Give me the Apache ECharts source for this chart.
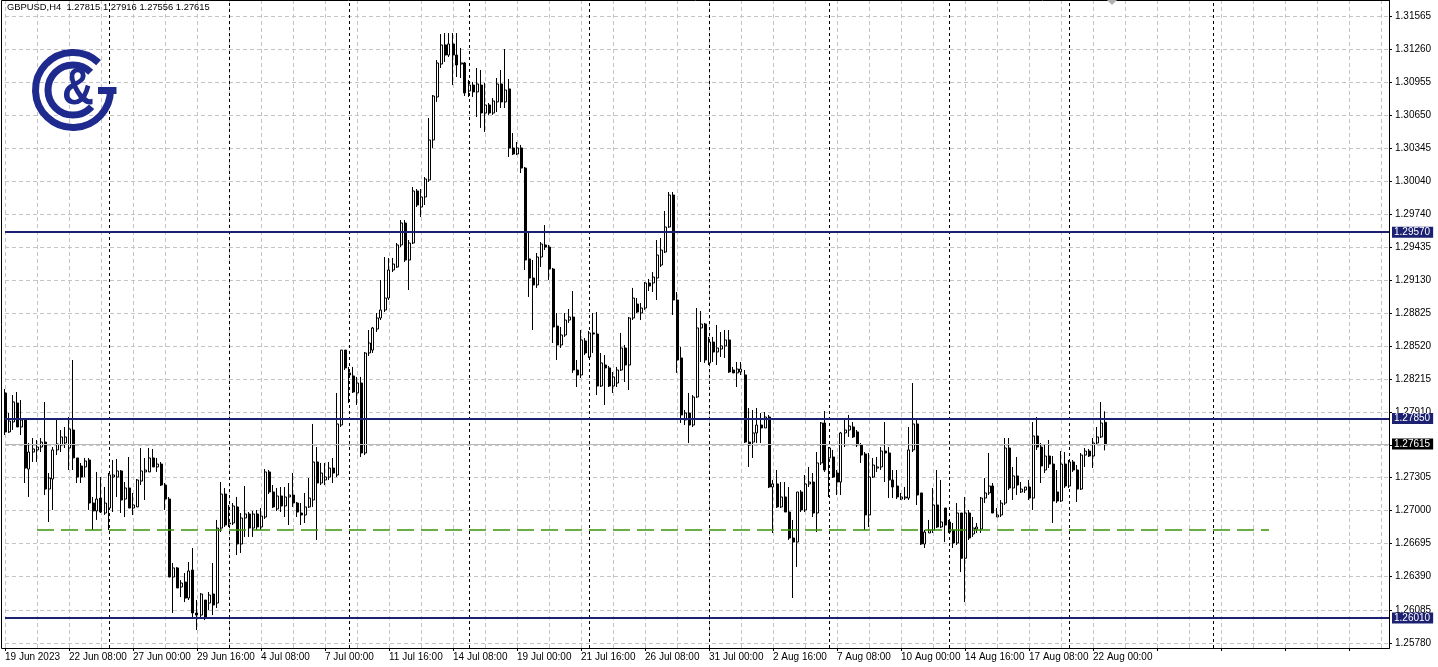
<!DOCTYPE html>
<html><head><meta charset="utf-8">
<script src="https://cdn.jsdelivr.net/npm/echarts@6/dist/echarts.min.js"></script>
<style>html,body{margin:0;padding:0;background:#fff;}#c{width:1438px;height:667px;}</style>
</head><body><div id="c"></div>
<script>
const symbol = 'GBPUSD';
const timeframe = 'H4';

const opens = [1.28086,1.27726,1.27818,1.27993,1.27772,1.27837,1.27384,1.27541,1.27560,1.27587,
1.27633,1.27199,1.27292,1.27560,1.27606,1.27624,1.27578,1.27744,1.27486,1.27412,
1.27403,1.27467,1.27070,1.26997,1.27116,1.26978,1.27024,1.27310,1.27310,1.27366,
1.27107,1.27209,1.27024,1.27034,1.27273,1.27357,1.27357,1.27486,1.27403,1.27430,
1.27236,1.27107,1.26387,1.26471,1.26295,1.26341,1.26193,1.26452,1.26055,1.26036,
1.26175,1.26147,1.26230,1.26147,1.26839,1.27153,1.26877,1.26886,1.27034,1.26692,
1.26932,1.26969,1.26839,1.26969,1.26849,1.26941,1.27357,1.27172,1.27015,1.27135,
1.27043,1.27126,1.27144,1.27070,1.26978,1.26960,1.27034,1.27098,1.27449,1.27255,
1.27283,1.27310,1.27393,1.27329,1.27790,1.28482,1.28271,1.28243,1.28086,1.28178,
1.27532,1.28455,1.28482,1.28676,1.28778,1.28852,1.28962,1.29221,1.29249,1.29452,
1.29655,1.29313,1.29470,1.29950,1.29802,1.29895,1.30052,1.30421,1.30818,1.31122,
1.31298,1.31205,1.31307,1.31205,1.31122,1.31132,1.30873,1.30928,1.30864,1.30928,
1.30670,1.30744,1.30670,1.30772,1.30938,1.30772,1.30892,1.30347,1.30292,1.30347,
1.30162,1.29323,1.29147,1.29083,1.29341,1.29452,1.29433,1.29230,1.28704,1.28529,
1.28621,1.28759,1.28787,1.28298,1.28252,1.28566,1.28418,1.28640,1.28630,1.28150,
1.28344,1.28317,1.28150,1.28178,1.28298,1.28501,1.28344,1.28778,1.28907,1.28824,
1.28870,1.29101,1.29101,1.29147,1.29267,1.29387,1.29618,1.29913,1.28944,1.28409,
1.27837,1.27901,1.27790,1.28049,1.28686,1.28722,1.28363,1.28556,1.28464,1.28492,
1.28520,1.28575,1.28298,1.28271,1.28280,1.28252,1.27633,1.27633,1.27717,1.27790,
1.27763,1.27864,1.27218,1.27246,1.27034,1.27126,1.26987,1.26747,1.26710,1.27172,
1.27006,1.27246,1.27264,1.26978,1.27440,1.27809,1.27486,1.27495,1.27347,1.27264,
1.27717,1.27744,1.27772,1.27726,1.27606,1.27523,1.26960,1.27310,1.27393,1.27403,
1.27550,1.27532,1.27283,1.27227,1.27107,1.27116,1.27116,1.27560,1.27800,1.27163,
1.26692,1.26794,1.26821,1.27052,1.26849,1.27024,1.26895,1.26821,1.26701,1.26978,
1.26560,1.26978,1.26784,1.26830,1.26830,1.27116,1.27163,1.27227,1.26941,1.26960,
1.27070,1.27578,1.27209,1.27320,1.27172,1.27190,1.27218,1.27116,1.27689,1.27587,
1.27375,1.27504,1.27430,1.27172,1.27089,1.27430,1.27227,1.27449,1.27375,1.27199,
1.27513,1.27550,1.27504,1.27624,1.27680,1.27815];

const highs = [1.28123,1.27901,1.28067,1.28095,1.28021,1.27855,1.27624,1.27670,1.27652,1.27670,
1.28003,1.27347,1.27587,1.27846,1.27744,1.27772,1.27864,1.28390,1.27486,1.27440,
1.27486,1.27486,1.27126,1.27357,1.27310,1.27218,1.27347,1.27467,1.27477,1.27375,
1.27264,1.27495,1.27163,1.27292,1.27578,1.27486,1.27578,1.27569,1.27486,1.27449,
1.27255,1.27126,1.26517,1.26480,1.26359,1.26424,1.26526,1.26655,1.26175,1.26239,
1.26175,1.26249,1.26517,1.26914,1.27264,1.27209,1.27052,1.27070,1.27126,1.26978,
1.27227,1.26987,1.26997,1.27006,1.27024,1.27384,1.27375,1.27236,1.27209,1.27218,
1.27218,1.27255,1.27347,1.27080,1.27070,1.27163,1.27301,1.27800,1.27587,1.27440,
1.27440,1.27449,1.27486,1.28086,1.28482,1.28482,1.28326,1.28326,1.28234,1.28234,
1.28464,1.28667,1.28695,1.28824,1.29129,1.29341,1.29332,1.29332,1.29470,1.29682,
1.29682,1.29498,1.29987,1.29968,1.29968,1.30079,1.30624,1.30836,1.31159,1.31399,
1.31408,1.31408,1.31408,1.31408,1.31270,1.31141,1.30975,1.30956,1.31085,1.31067,
1.30947,1.30762,1.30808,1.30993,1.31067,1.31261,1.30984,1.30485,1.30402,1.30375,
1.30172,1.29562,1.29313,1.29378,1.29479,1.29636,1.29452,1.29240,1.28824,1.28695,
1.28824,1.28861,1.29027,1.28390,1.28667,1.28593,1.28658,1.28824,1.28833,1.28455,
1.28436,1.28335,1.28280,1.28326,1.28640,1.28529,1.28787,1.29055,1.28962,1.28916,
1.29110,1.29138,1.29202,1.29498,1.29516,1.29766,1.29941,1.29941,1.29018,1.28510,
1.27929,1.28086,1.28067,1.28870,1.28843,1.28732,1.28603,1.28603,1.28713,1.28649,
1.28667,1.28667,1.28326,1.28372,1.28372,1.28298,1.27947,1.27929,1.27947,1.27901,
1.27910,1.27883,1.27283,1.27375,1.27264,1.27264,1.27218,1.26914,1.27172,1.27190,
1.27329,1.27403,1.27347,1.27541,1.27818,1.27919,1.27587,1.27560,1.27375,1.27726,
1.27855,1.27883,1.27818,1.27744,1.27624,1.27541,1.27532,1.27486,1.27495,1.27587,
1.27818,1.27587,1.27375,1.27375,1.27163,1.27218,1.27772,1.28178,1.27855,1.27163,
1.26821,1.26914,1.27209,1.27375,1.27283,1.27024,1.26914,1.26886,1.27070,1.26978,
1.27126,1.27006,1.26941,1.26886,1.27126,1.27301,1.27532,1.27255,1.27024,1.27098,
1.27670,1.27670,1.27403,1.27495,1.27264,1.27218,1.27283,1.27818,1.27864,1.27624,
1.27606,1.27652,1.27504,1.27375,1.27550,1.27541,1.27467,1.27467,1.27421,1.27532,
1.27578,1.27569,1.27670,1.27772,1.28003,1.27916];

const lows = [1.27698,1.27717,1.27744,1.27772,1.27698,1.27255,1.27126,1.27449,1.27449,1.27541,
1.27144,1.26895,1.27006,1.27513,1.27541,1.27578,1.27375,1.27375,1.27255,1.27255,
1.27310,1.27006,1.26821,1.26914,1.26978,1.26960,1.26821,1.26987,1.27126,1.26978,
1.26941,1.27024,1.26960,1.27034,1.27236,1.27098,1.27357,1.27403,1.27357,1.27227,
1.27006,1.26387,1.26055,1.26286,1.26202,1.26156,1.26175,1.26018,1.25898,1.26018,
1.25990,1.26083,1.26036,1.26101,1.26802,1.26849,1.26849,1.26867,1.26590,1.26609,
1.26757,1.26757,1.26757,1.26821,1.26821,1.26923,1.27153,1.27024,1.26997,1.26987,
1.26941,1.26867,1.27034,1.26941,1.26867,1.26886,1.27024,1.27034,1.26729,1.27236,
1.27236,1.27283,1.27255,1.27310,1.27772,1.28298,1.27993,1.28086,1.27975,1.27495,
1.27513,1.28427,1.28455,1.28649,1.28759,1.28833,1.28944,1.29202,1.29240,1.29433,
1.29295,1.29036,1.29461,1.29802,1.29710,1.29821,1.30033,1.30347,1.30772,1.31085,
1.31141,1.31187,1.30928,1.31002,1.30993,1.30827,1.30818,1.30818,1.30633,1.30532,
1.30495,1.30652,1.30652,1.30679,1.30716,1.30716,1.30264,1.30282,1.30282,1.30116,
1.29221,1.28972,1.28667,1.29055,1.29249,1.29405,1.29129,1.28547,1.28390,1.28501,
1.28603,1.28732,1.28271,1.28141,1.28224,1.28436,1.28409,1.28455,1.28067,1.28141,
1.27975,1.28141,1.28086,1.28141,1.28289,1.28187,1.28113,1.28759,1.28824,1.28759,
1.28852,1.29027,1.29018,1.28944,1.29249,1.29378,1.29609,1.28806,1.28271,1.27809,
1.27790,1.27624,1.27772,1.28040,1.28372,1.28363,1.28344,1.28372,1.28344,1.28418,
1.28409,1.28271,1.28271,1.28141,1.28252,1.27624,1.27403,1.27486,1.27624,1.27624,
1.27763,1.27209,1.26794,1.27024,1.27024,1.26987,1.26729,1.26193,1.26480,1.26987,
1.26987,1.27218,1.26941,1.26802,1.27421,1.27357,1.27126,1.27301,1.27144,1.27144,
1.27587,1.27680,1.27670,1.27587,1.27440,1.26821,1.26849,1.27301,1.27357,1.27375,
1.27264,1.27116,1.27116,1.27107,1.27098,1.27098,1.27098,1.27541,1.27052,1.26683,
1.26655,1.26794,1.26794,1.26839,1.26839,1.26710,1.26794,1.26655,1.26683,1.26433,
1.26156,1.26729,1.26757,1.26794,1.26794,1.27070,1.27144,1.26978,1.26941,1.26941,
1.27052,1.27190,1.27098,1.27144,1.27163,1.27163,1.27098,1.27006,1.27560,1.27255,
1.27347,1.27393,1.26886,1.27070,1.27080,1.27209,1.27209,1.27357,1.27080,1.27190,
1.27403,1.27495,1.27393,1.27606,1.27670,1.27556];

const closes = [1.27726,1.27827,1.28003,1.27772,1.27837,1.27393,1.27541,1.27569,1.27587,1.27633,
1.27199,1.27301,1.27560,1.27615,1.27680,1.27680,1.27754,1.27486,1.27310,1.27310,
1.27458,1.27070,1.26997,1.27107,1.26987,1.27070,1.27329,1.27329,1.27366,1.27098,
1.27209,1.27024,1.27052,1.27283,1.27366,1.27375,1.27486,1.27403,1.27430,1.27236,
1.27107,1.26387,1.26471,1.26286,1.26332,1.26193,1.26443,1.26055,1.26036,1.26230,
1.26018,1.26221,1.26129,1.26839,1.27153,1.26867,1.26886,1.27043,1.26692,1.26932,
1.26969,1.26839,1.26969,1.26849,1.26950,1.27357,1.27172,1.27034,1.27135,1.27043,
1.27126,1.27144,1.27070,1.26987,1.26960,1.27034,1.27116,1.27449,1.27255,1.27347,
1.27310,1.27393,1.27347,1.27800,1.28482,1.28317,1.28252,1.28095,1.28178,1.27532,
1.28455,1.28547,1.28686,1.28778,1.28852,1.28962,1.29221,1.29276,1.29452,1.29655,
1.29313,1.29470,1.29950,1.29821,1.29895,1.30061,1.30421,1.30827,1.31132,1.31298,
1.31205,1.31307,1.31205,1.31113,1.31132,1.30855,1.30928,1.30864,1.30938,1.30670,
1.30744,1.30670,1.30781,1.30938,1.30772,1.30882,1.30347,1.30292,1.30347,1.30162,
1.29313,1.29147,1.29083,1.29341,1.29461,1.29433,1.29230,1.28695,1.28529,1.28621,
1.28759,1.28787,1.28298,1.28252,1.28575,1.28455,1.28640,1.28630,1.28150,1.28363,
1.28317,1.28150,1.28234,1.28298,1.28501,1.28344,1.28778,1.28962,1.28833,1.28870,
1.29101,1.29073,1.29156,1.29359,1.29405,1.29618,1.29913,1.28944,1.28390,1.27883,
1.27901,1.27790,1.28049,1.28686,1.28722,1.28390,1.28556,1.28464,1.28501,1.28520,
1.28575,1.28280,1.28271,1.28307,1.28307,1.27633,1.27606,1.27717,1.27790,1.27763,
1.27864,1.27218,1.27246,1.27034,1.27126,1.26987,1.26747,1.26710,1.27172,1.27006,
1.27246,1.27264,1.26978,1.27440,1.27809,1.27375,1.27578,1.27310,1.27264,1.27717,
1.27744,1.27781,1.27680,1.27606,1.27513,1.26960,1.27310,1.27421,1.27403,1.27550,
1.27532,1.27283,1.27218,1.27126,1.27126,1.27126,1.27560,1.27800,1.27144,1.26692,
1.26802,1.26821,1.27052,1.26849,1.26895,1.26867,1.26802,1.26701,1.26978,1.26560,
1.26978,1.26747,1.26839,1.26849,1.27116,1.27163,1.27227,1.26978,1.26960,1.27070,
1.27578,1.27209,1.27320,1.27236,1.27199,1.27218,1.27116,1.27689,1.27587,1.27412,
1.27504,1.27430,1.27089,1.27089,1.27430,1.27227,1.27449,1.27375,1.27199,1.27513,
1.27550,1.27504,1.27624,1.27680,1.27809,1.27615];

const xTickLabels = ['19 Jun 2023','22 Jun 08:00','27 Jun 00:00','29 Jun 16:00','4 Jul 08:00','7 Jul 00:00',
'11 Jul 16:00','14 Jul 08:00','19 Jul 00:00','21 Jul 16:00','26 Jul 08:00','31 Jul 00:00',
'2 Aug 16:00','7 Aug 08:00','10 Aug 00:00','14 Aug 16:00','17 Aug 08:00','22 Aug 00:00'];
const barsPerLabel = 16;
const yTickValues = [1.31565,1.31260,1.30955,1.30650,1.30345,1.30040,1.29740,1.29435,1.29130,1.28825,
1.28520,1.28215,1.27910,1.27605,1.27305,1.27000,1.26695,1.26390,1.26085,1.25780];
const levelLines = [1.29570, 1.27850, 1.26010];
const bidPrice = 1.27615;
const greenLevel = 1.2682;
const greenFromBar = 8, greenToBar = 316;
const weekSeparatorBars = [26,56,86,116,146,176,206,236,266,302];
const totalSlots = 347;
const yMin = 1.25732, yMax = 1.31713;

const NAVY = '#1b2070', LOGO = '#1e2a8e';
const cats = Array.from({length: totalSlots}, (_, i) => String(i));
const candleData = opens.map((o, i) => [o, closes[i], lows[i], highs[i]]);
const last = opens.length - 1;
const header = symbol + ',' + timeframe + '  ' + [opens[last], highs[last], lows[last], closes[last]].map(v => v.toFixed(5)).join(' ');
const FONT = '"Liberation Sans", Arial, sans-serif';

const levelLabel = (bg, v) => ({show: true, position: 'end', distance: 3, formatter: () => v.toFixed(5),
  backgroundColor: bg, color: '#fff', fontSize: 10, fontFamily: FONT, padding: [1, 3, 0, 2]});

const chart = echarts.init(document.getElementById('c'));
chart.setOption({
  animation: false,
  backgroundColor: '#fff',
  grid: {left: 5, right: 49, top: 0, bottom: 19, containLabel: false},
  xAxis: {
    type: 'category', data: cats, boundaryGap: false,
    axisLine: {show: true, lineStyle: {color: '#000', width: 1}},
    axisTick: {show: true, interval: barsPerLabel - 1, length: 3, lineStyle: {color: '#000'}},
    axisLabel: {
      interval: barsPerLabel - 1, align: 'left', margin: 4, fontSize: 10, fontFamily: FONT, color: '#000',
      formatter: (v) => { const i = +v; const k = i / barsPerLabel; return (i % barsPerLabel === 0 && k < xTickLabels.length) ? xTickLabels[k] : ''; }
    },
    splitLine: {show: true, interval: 7, lineStyle: {color: '#c4c4c4', width: 1, type: [4, 3]}}
  },
  yAxis: {
    type: 'value', position: 'right', min: yMin, max: yMax, scale: true,
    axisLine: {show: true, onZero: false, lineStyle: {color: '#000', width: 1}},
    axisTick: {show: true, length: 3, customValues: yTickValues, lineStyle: {color: '#000'}},
    axisLabel: {customValues: yTickValues, margin: 6, fontSize: 10, fontFamily: FONT, color: '#000', formatter: v => v.toFixed(5)},
    splitLine: {show: false}
  },
  series: [
    {
      type: 'line', data: [], z: 1, silent: true,
      markLine: {
        z: 1, silent: true, precision: 5, symbol: ['none', 'none'], animation: false, label: {show: false},
        data: yTickValues.map(v => ({yAxis: v, lineStyle: {color: '#c4c4c4', width: 1, type: [4, 3]}}))
          .concat(weekSeparatorBars.map(b => ({xAxis: cats[b], lineStyle: {color: '#000', width: 1, type: [3, 3]}})))
      }
    },
    {
      type: 'candlestick', data: candleData, z: 3, barWidth: 2.5, clip: false,
      itemStyle: {color: '#fff', color0: '#000', borderColor: '#000', borderColor0: '#000', borderWidth: 1},
      markLine: {
        z: 5, silent: true, precision: 5, symbol: ['none', 'none'], animation: false,
        data: [
          {yAxis: bidPrice, lineStyle: {color: '#b8b8b8', width: 1, type: 'solid'}, label: levelLabel('#000', bidPrice)},
          [{coord: [cats[greenFromBar], greenLevel], lineStyle: {color: '#3a940a', width: 1.5, type: [17, 7]}, label: {show: false}},
           {coord: [cats[greenToBar], greenLevel]}]
        ].concat(levelLines.map(v => ({yAxis: v, lineStyle: {color: NAVY, width: 2, type: 'solid'}, label: levelLabel(NAVY, v)})))
      }
    }
  ],
  graphic: [
    {type: 'rect', shape: {x: 1.5, y: 0.5, width: 1388, height: 648}, style: {fill: null, stroke: '#000', lineWidth: 1}, silent: true, z: 10},
    {type: 'polygon', shape: {points: [[1107, 0], [1117, 0], [1112, 5]]}, style: {fill: '#b0b0b0'}, z: 10},
    {type: 'text', x: 7, y: 3, z: 10, style: {text: header, font: '9.4px ' + FONT, fill: '#000', verticalAlign: 'top'}},
    {type: 'arc', z: 10, shape: {cx: 73, cy: 90, r: 37.5, startAngle: -47 * Math.PI / 180, endAngle: 0, clockwise: false}, style: {stroke: LOGO, lineWidth: 7, fill: null}},
    {type: 'rect', z: 10, shape: {x: 98, y: 87, width: 18.5, height: 7}, style: {fill: LOGO}},
    {type: 'arc', z: 10, shape: {cx: 73, cy: 90, r: 25, startAngle: -45 * Math.PI / 180, endAngle: 42 * Math.PI / 180, clockwise: false}, style: {stroke: LOGO, lineWidth: 7, fill: null}},
    {type: 'text', z: 10, x: 78, y: 90, scaleX: 0.85, style: {text: '&', x: 0, y: 0, font: 'bold 52px ' + FONT, fill: LOGO, align: 'center', verticalAlign: 'middle'}}
  ]
});
</script>
</body></html>
